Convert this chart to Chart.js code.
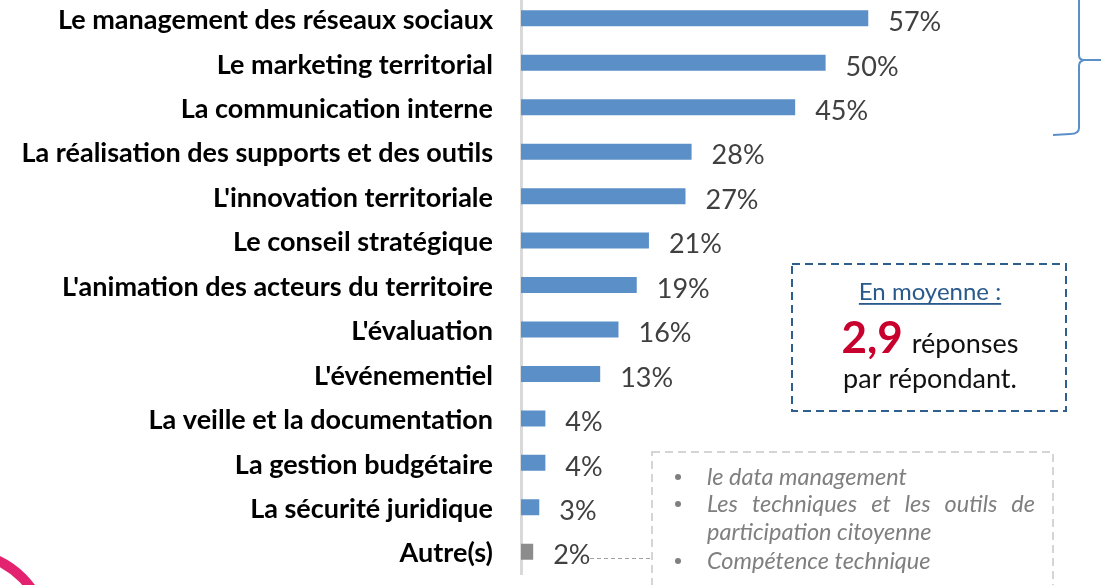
<!DOCTYPE html>
<html>
<head>
<meta charset="utf-8">
<script src="https://cdn.jsdelivr.net/npm/chart.js@4.4.1/dist/chart.umd.min.js"></script>
<style>
  html, body { margin:0; padding:0; background:#fff; overflow:hidden; width:1101px; height:585px; }
  #wrap { position:absolute; left:0; top:-4px; width:1101px; height:589px; }
</style>
</head>
<body>
<div id="wrap"><canvas id="c" width="1101" height="589"></canvas></div>
<script>
const categories = [
  "Le management des réseaux sociaux",
  "Le marketing territorial",
  "La communication interne",
  "La réalisation des supports et des outils",
  "L'innovation territoriale",
  "Le conseil stratégique",
  "L'animation des acteurs du territoire",
  "L'évaluation",
  "L'événementiel",
  "La veille et la documentation",
  "La gestion budgétaire",
  "La sécurité juridique",
  "Autre(s)"
];
const values = [57, 50, 45, 28, 27, 21, 19, 16, 13, 4, 4, 3, 2];
const otherItems = [
  "le data management",
  "Les techniques et les outils de",
  "participation citoyenne",
  "Compétence technique"
];
const averageTitle = "En moyenne :";
const averageValue = "2,9";
const averageText1 = "réponses";
const averageText2 = "par répondant.";

const OFF = 4;
const BLUE = "#5B8FC8";
const GREY = "#8C8C8C";

const valueLabels = {
  id: "valueLabels",
  afterDatasetsDraw(chart) {
    const ctx = chart.ctx;
    const meta = chart.getDatasetMeta(0);
    ctx.save();
    ctx.font = "27px Lato";
    ctx.fillStyle = "#404040";
    ctx.textAlign = "left";
    ctx.textBaseline = "middle";
    meta.data.forEach((bar, i) => {
      ctx.fillText(values[i] + "%", bar.x + 20, bar.y + 4);
    });
    ctx.restore();
  }
};

const decorations = {
  id: "decorations",
  afterDraw(chart) {
    const ctx = chart.ctx;
    ctx.save();
    ctx.translate(0, OFF);

    // Brace (top right)
    ctx.strokeStyle = BLUE;
    ctx.lineWidth = 2;
    ctx.beginPath();
    ctx.moveTo(1079, -5);
    ctx.lineTo(1079, 55);
    ctx.quadraticCurveTo(1079, 60, 1084, 60);
    ctx.lineTo(1101, 60);
    ctx.moveTo(1084, 60);
    ctx.quadraticCurveTo(1079, 61, 1079, 66);
    ctx.lineTo(1079, 128);
    ctx.quadraticCurveTo(1079, 134, 1070, 134);
    ctx.lineTo(1053, 135);
    ctx.stroke();

    // Average box (blue dashed)
    ctx.strokeStyle = "#2F5F8F";
    ctx.lineWidth = 2;
    ctx.setLineDash([8, 5]);
    ctx.strokeRect(792, 264, 274, 147);

    ctx.setLineDash([]);
    ctx.textBaseline = "alphabetic";
    ctx.font = "24px Lato";
    ctx.fillStyle = "#2A5A8C";
    ctx.textAlign = "center";
    ctx.fillText(averageTitle, 930, 300);
    const tw = ctx.measureText(averageTitle).width;
    ctx.fillRect(930 - tw / 2, 303, tw, 1.8);

    ctx.textAlign = "left";
    ctx.font = "bold 44px Lato";
    ctx.fillStyle = "#C8002D";
    const vw = ctx.measureText(averageValue).width;
    ctx.font = "27px Lato";
    const rw = ctx.measureText(averageText1).width;
    const total = vw + 9 + rw;
    const x0 = 930 - total / 2;
    ctx.font = "bold 44px Lato";
    ctx.fillText(averageValue, x0, 353);
    ctx.font = "27px Lato";
    ctx.fillStyle = "#111";
    ctx.fillText(averageText1, x0 + vw + 9, 353);
    ctx.textAlign = "center";
    ctx.fillText(averageText2, 930, 388);

    // Others box (grey dashed)
    ctx.strokeStyle = "#C8C8C8";
    ctx.lineWidth = 1.5;
    ctx.setLineDash([8, 5]);
    ctx.strokeRect(652, 452, 401, 160);
    // connector line from "2%" label
    ctx.setLineDash([4, 3]);
    ctx.strokeStyle = "#A0A0A0";
    ctx.lineWidth = 1;
    ctx.beginPath();
    ctx.moveTo(590, 558.5);
    ctx.lineTo(652, 558.5);
    ctx.stroke();
    ctx.setLineDash([]);

    ctx.fillStyle = "#7F7F7F";
    ctx.textAlign = "left";
    ctx.font = "italic 23.5px Lato";
    const bx = 678, tx = 707;
    const baselines = [485, 512, 540, 569];
    const bullets = [true, true, false, true];
    otherItems.forEach((t, i) => {
      if (bullets[i]) {
        ctx.beginPath();
        ctx.arc(bx, baselines[i] - 8, 3, 0, Math.PI * 2);
        ctx.fill();
      }
      if (i === 1) {
        const words = t.split(" ");
        const width = 1035 - tx;
        const wsum = words.reduce((s, w) => s + ctx.measureText(w).width, 0);
        const gap = (width - wsum) / (words.length - 1);
        let x = tx;
        words.forEach(w => { ctx.fillText(w, x, baselines[i]); x += ctx.measureText(w).width + gap; });
      } else {
        ctx.fillText(t, tx, baselines[i]);
      }
    });

    // Pink ring (bottom left)
    ctx.strokeStyle = "#E3236F";
    ctx.lineWidth = 10;
    ctx.beginPath();
    ctx.arc(-40, 640, 88, 0, Math.PI * 2);
    ctx.stroke();

    ctx.restore();
  }
};

new Chart(document.getElementById("c"), {
  type: "bar",
  data: {
    labels: categories,
    datasets: [{
      data: values,
      backgroundColor: values.map((v, i) => i === values.length - 1 ? GREY : BLUE),
      borderWidth: 0,
      categoryPercentage: 1,
      barPercentage: 0.36
    }]
  },
  options: {
    indexAxis: "y",
    responsive: false,
    animation: false,
    events: [],
    layout: { padding: { top: 0, left: 0, right: 0, bottom: 11 } },
    plugins: { legend: { display: false }, tooltip: { enabled: false } },
    scales: {
      x: { display: false, min: 0, max: 95.2 },
      y: {
        afterFit: s => { s.width = 521; },
        grid: { display: false, drawTicks: true, tickLength: 28 },
        border: { display: true, color: "#D9D9D9", width: 3 },
        ticks: {
          padding: 0,
          color: "#000",
          font: { family: "Lato", weight: "bold", size: 27, lineHeight: 0.01 },
          labelOffset: 2
        }
      }
    }
  },
  plugins: [valueLabels, decorations]
});
</script>
</body>
</html>
